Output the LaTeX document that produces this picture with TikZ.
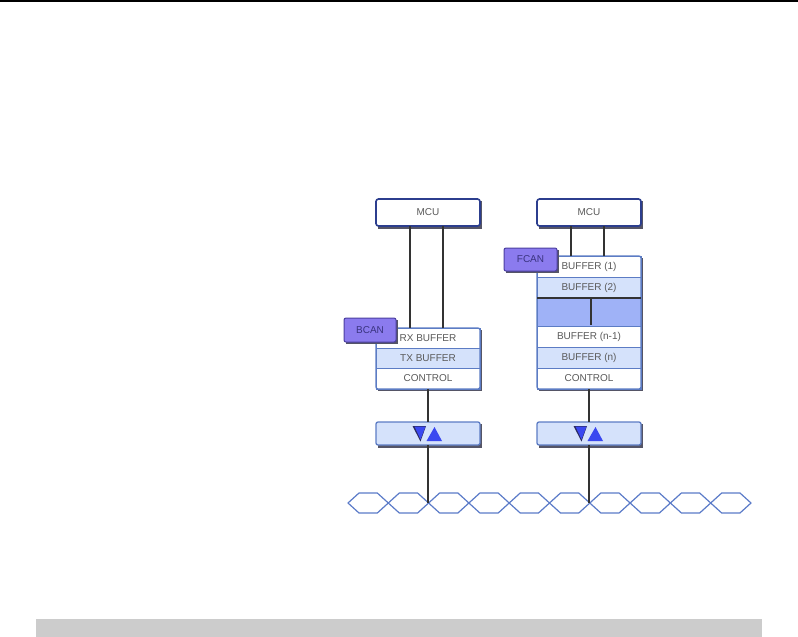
\documentclass[tikz,border=0pt]{standalone}
\usepackage{fontspec}
\setmainfont{Liberation Sans}
\begin{document}
\begin{tikzpicture}[x=1pt,y=-1pt,
  every node/.style={inner sep=0pt,outer sep=0pt,font=\fontsize{10}{11}\selectfont,text=txtgray},
  mcubox/.style={draw=navy,line width=1.6pt,fill=white,rounded corners=2.5pt,minimum width=104pt,minimum height=27pt},
  rowbox/.style={draw=rowblue,line width=1pt,minimum width=104pt},
  lightrow/.style={rowbox,fill=lightfill},
  whiterow/.style={rowbox,fill=white},
  tagbox/.style={draw=tagborder,line width=1pt,fill=tagfill,rounded corners=2pt,text=tagtext},
  wire/.style={draw=wiregray,line width=1.7pt},
  busline/.style={draw=busblue,line width=1.2pt,line join=round}]
\definecolor{navy}{HTML}{2C3E8E}
\definecolor{rowblue}{HTML}{5C7CC4}
\definecolor{lightfill}{HTML}{D5E2FB}
\definecolor{blankfill}{HTML}{9FB2F7}
\definecolor{tagfill}{HTML}{8B7BEE}
\definecolor{tagborder}{HTML}{4B3FA0}
\definecolor{tagtext}{HTML}{3A3480}
\definecolor{txtgray}{HTML}{5A5A5A}
\definecolor{wiregray}{HTML}{333333}
\definecolor{busblue}{HTML}{5B7BC8}
\definecolor{shadow}{HTML}{555566}
\definecolor{tridark}{HTML}{2A2A60}
\definecolor{triblue}{HTML}{3A48F0}
\useasboundingbox (0,0) rectangle (798,637);
% top rule and bottom bar
\draw[line width=1.5pt,black] (0,0.75) -- (798,0.75);
\fill[fill={rgb,255:red,204;green,204;blue,204}] (36,619) rectangle (762,637);

% shadows
\foreach \x in {376,537}{
  \fill[shadow] (\x+2,201) rectangle (\x+106,228.5);
  \fill[shadow] (\x+2,424) rectangle (\x+106,447.5);
}
\fill[shadow] (378,330) rectangle (482,391);
\fill[shadow] (539,258) rectangle (643,391);

% MCUs
\node[mcubox] (mcuA) at (428,212.5) {MCU};
\node[mcubox] (mcuB) at (589,212.5) {MCU};

% left stack
\node[whiterow,minimum height=20pt] (rxA) at (428,338) {RX BUFFER};
\node[lightrow,minimum height=20pt] (txA) at (428,358) {TX BUFFER};
\node[whiterow,minimum height=21pt] (ctlA) at (428,378.5) {CONTROL};
\draw[rowblue,line width=1.3pt,rounded corners=2pt] (376,328) rectangle (480,389);

% right stack
\node[whiterow,minimum height=21pt] (b1) at (589,266.5) {BUFFER (1)};
\node[lightrow,minimum height=21pt] (b2) at (589,287.5) {BUFFER (2)};
\node[rowbox,fill=blankfill,minimum height=28pt] (bmid) at (589,312) {};
\node[whiterow,minimum height=21pt] (bn1) at (589,336.5) {BUFFER (n-1)};
\node[lightrow,minimum height=21pt] (bn) at (589,357.5) {BUFFER (n)};
\node[whiterow,minimum height=21pt] (ctlB) at (589,378.5) {CONTROL};
\draw[rowblue,line width=1.3pt,rounded corners=2pt] (537,256) rectangle (641,389);
\draw[wiregray,line width=1.6pt] (bmid.north west) -- (bmid.north east);
\coordinate (midB) at (591,325);
\draw[wire] (bmid.north -| midB) -- (midB);

% tags
\fill[shadow] (346,320) rectangle (398,344);
\node[tagbox,minimum width=52pt,minimum height=24pt] (bcan) at (370,330) {BCAN};
\fill[shadow] (506,250) rectangle (559,273);
\node[tagbox,minimum width=53pt,minimum height=23pt] (fcan) at (530.5,259.5) {FCAN};

% transceivers
\node[lightrow,draw=rowblue,line width=1.3pt,rounded corners=2pt,minimum height=23pt] (trA) at (428,433.5) {};
\node[lightrow,draw=rowblue,line width=1.3pt,rounded corners=2pt,minimum height=23pt] (trB) at (589,433.5) {};
\foreach \t in {trA,trB}{
  \fill[tridark] ([shift={(-15.5,-7.5)}]\t.center) -- ([shift={(-2,-7.5)}]\t.center) -- ([shift={(-7.5,8)}]\t.center) -- cycle;
  \fill[triblue] ([shift={(-13.5,-7)}]\t.center) -- ([shift={(-2.5,-7)}]\t.center) -- ([shift={(-7.5,6)}]\t.center) -- cycle;
  \fill[triblue] ([shift={(-1.5,7.5)}]\t.center) -- ([shift={(14,7.5)}]\t.center) -- ([shift={(6.5,-6.5)}]\t.center) -- cycle;
}

% wires MCU -> stack
\coordinate (wA1) at (410,0); \coordinate (wA2) at (443,0);
\coordinate (wB1) at (571,0); \coordinate (wB2) at (604,0);
\draw[wire] (mcuA.south -| wA1) -- (rxA.north -| wA1);
\draw[wire] (mcuA.south -| wA2) -- (rxA.north -| wA2);
\draw[wire] (mcuB.south -| wB1) -- (b1.north -| wB1);
\draw[wire] (mcuB.south -| wB2) -- (b1.north -| wB2);
% stack -> transceiver
\draw[wire] (ctlA.south) -- (trA.north);
\draw[wire] (ctlB.south) -- (trB.north);

% bus
\foreach \i in {0,...,9}{
  \pgfmathsetmacro{\xo}{348+40.3*\i}
  \draw[busline] (\xo,503) -- (\xo+11,493) -- (\xo+29.3,493) -- (\xo+40.3,503) -- (\xo+29.3,513) -- (\xo+11,513) -- cycle;
}
\coordinate (busA) at (428.6,503);
\coordinate (busB) at (589.8,503);
\draw[wire] (trA.south) -- (trA.south |- busA);
\draw[wire] (trB.south) -- (trB.south |- busB);
\end{tikzpicture}
\end{document}
